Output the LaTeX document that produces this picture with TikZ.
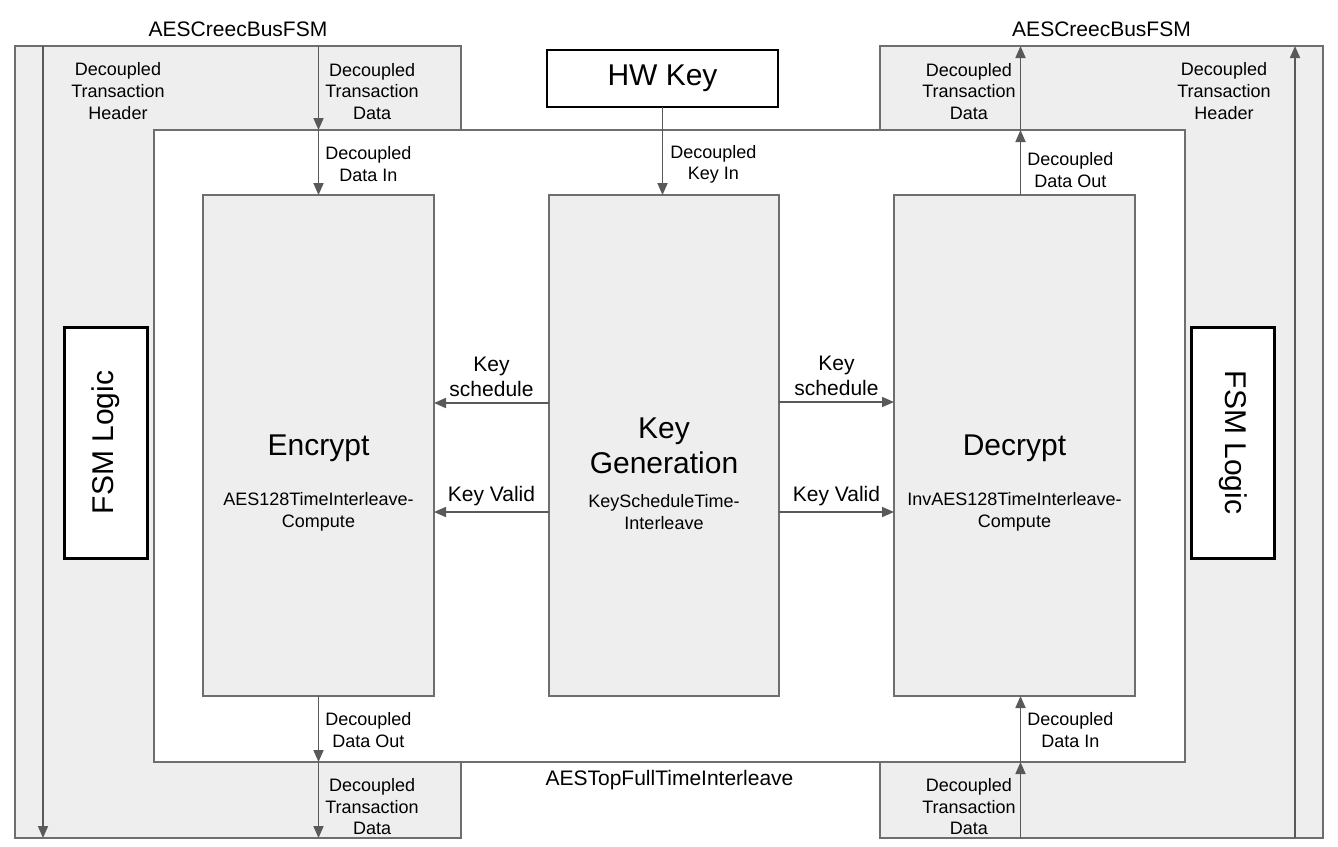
\documentclass[tikz,border=0pt]{standalone}
\usepackage{fontspec}
\setmainfont{Liberation Sans}
\usetikzlibrary{arrows.meta,positioning}

\definecolor{boxgray}{HTML}{EEEEEE}
\definecolor{edgegray}{HTML}{6E6E6E}
\definecolor{flowgray}{HTML}{595959}

\newcommand{\lblfont}{\fontsize{18}{21.6}\selectfont}
\newcommand{\keyfont}{\fontsize{21}{25.5}\selectfont}
\newcommand{\titlefont}{\fontsize{30}{35}\selectfont}

\begin{document}
\begin{tikzpicture}[x=1pt, y=-1pt,
  busbox/.style={draw=edgegray, fill=boxgray, line width=1.5pt, anchor=north west, inner sep=0pt, outer sep=0pt},
  topbox/.style={busbox, fill=white},
  unit/.style={busbox, font=\titlefont},
  plainbox/.style={draw=black, fill=white, line width=1.5pt, inner sep=0pt, outer sep=0pt, font=\titlefont},
  fsmbox/.style={plainbox, line width=3pt, minimum width=231pt, minimum height=83pt},
  flow/.style={draw=flowgray, line width=1.7pt, -{Triangle[length=12pt,width=10pt]}},
  lbl/.style={font=\lblfont, align=center, inner sep=0pt},
  keylbl/.style={font=\keyfont, align=center, inner sep=0pt},
]

\useasboundingbox (0,0) rectangle (1338,846);

\node[busbox, minimum width=446pt, minimum height=792pt] (lbus) at (15,46) {};
\node[busbox, minimum width=443pt, minimum height=792pt] (rbus) at (880,46) {};
\node[keylbl, above=9pt of lbus.north] (lbusname) {AESCreecBusFSM};
\node[keylbl, above=9pt of rbus.north] (rbusname) {AESCreecBusFSM};

\node[topbox, minimum width=1031pt, minimum height=632pt] (top) at (154,130) {};
\node[keylbl, below=8pt of top.south] (topname) {AESTopFullTimeInterleave};

\node[unit, text depth=0pt, minimum width=231pt, minimum height=501pt] (enc) at (203,195) {Encrypt};
\node[unit, align=center, minimum width=230pt, minimum height=501pt] (keygen) at (549,195) {Key\\Generation};
\node[unit, text depth=0pt, minimum width=241pt, minimum height=501pt] (dec) at (894,195) {Decrypt};

\node[lbl] (encsub) at ([yshift=-66.5pt]enc.center) {AES128TimeInterleave-\\Compute};
\node[lbl] (keygensub) at ([yshift=-66.5pt]keygen.center) {KeyScheduleTime-\\Interleave};
\node[lbl] (decsub) at ([yshift=-66.5pt]dec.center) {InvAES128TimeInterleave-\\Compute};

\node[plainbox, anchor=north west, minimum width=231pt, minimum height=57pt] (hwkey) at (547,50) {HW Key};

\node[fsmbox, rotate=90] (lfsm) at (105.5,442.5) {FSM Logic};
\node[fsmbox, rotate=-90] (rfsm) at (1233,442.5) {FSM Logic};

\node[lbl] (lhdname) at (118,91) {Decoupled\\Transaction\\Header};
\node[lbl] (rhdname) at (1224,91) {Decoupled\\Transaction\\Header};

\coordinate (lhdtop) at ([xshift=28pt]lbus.north west);
\coordinate (lhdbot) at ([xshift=28pt]lbus.south west);
\coordinate (rhdtop) at ([xshift=-28pt]rbus.north east);
\coordinate (rhdbot) at ([xshift=-28pt]rbus.south east);
\coordinate (schedL) at ([yshift=42.5pt]keygen.west);
\coordinate (validL) at ([yshift=-66.5pt]keygen.west);
\coordinate (schedR) at ([yshift=43.5pt]keygen.east);
\coordinate (validR) at ([yshift=-66.5pt]keygen.east);
\coordinate (decout) at ([xshift=6pt]dec.north);
\coordinate (decin) at ([xshift=6pt]dec.south);

\draw[flow] (lhdtop) -- (lhdbot);
\draw[flow] (rhdbot) -- (rhdtop);

\draw[flow] (enc.north |- lbus.north) -- (enc.north |- top.north)
  node[lbl, pos=0.54, right=6pt] (ltdin) {Decoupled\\Transaction\\Data};
\draw[flow] (enc.north |- top.north) -- (enc.north)
  node[lbl, pos=0.52, right=6pt] (ldatain) {Decoupled\\Data In};
\draw[flow] (enc.south) -- (enc.south |- top.south)
  node[lbl, pos=0.52, right=6pt] (ldataout) {Decoupled\\Data Out};
\draw[flow] (enc.south |- top.south) -- (enc.south |- lbus.south)
  node[lbl, pos=0.59, right=6pt] (ltdout) {Decoupled\\Transaction\\Data};

\draw[flow] (hwkey.south) -- (hwkey.south |- keygen.north)
  node[lbl, pos=0.65, right=7pt] (keyin) {Decoupled\\Key In};

\draw[flow] (schedL) -- (schedL -| enc.east)
  node[keylbl, midway, above=5pt] (lsched) {Key\\schedule};
\draw[flow] (validL) -- (validL -| enc.east)
  node[keylbl, midway, above=5pt] (lvalid) {Key Valid};
\draw[flow] (schedR) -- (schedR -| dec.west)
  node[keylbl, midway, above=5pt] (rsched) {Key\\schedule};
\draw[flow] (validR) -- (validR -| dec.west)
  node[keylbl, midway, above=5pt] (rvalid) {Key Valid};

\draw[flow] (decout) -- (decout |- top.north)
  node[lbl, pos=0.38, right=6pt] (rdataout) {Decoupled\\Data Out};
\draw[flow] (decout |- top.north) -- (decout |- rbus.north)
  node[lbl, pos=0.46, left=4pt] (rtdout) {Decoupled\\Transaction\\Data};
\draw[flow] (decin |- rbus.south) -- (decin |- top.south)
  node[lbl, pos=0.41, left=4pt] (rtdin) {Decoupled\\Transaction\\Data};
\draw[flow] (decin |- top.south) -- (decin)
  node[lbl, pos=0.48, right=6pt] (rdatain) {Decoupled\\Data In};

\end{tikzpicture}
\end{document}
